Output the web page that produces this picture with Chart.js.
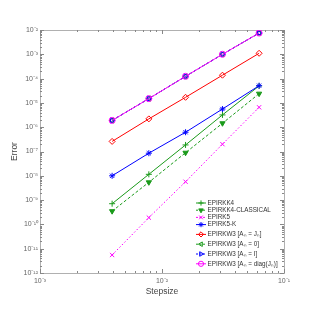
<!DOCTYPE html>
<html>
<head>
<meta charset="utf-8">
<script src="https://cdn.jsdelivr.net/npm/chart.js@4.4.0/dist/chart.umd.min.js"></script>
<style>
  html, body { margin: 0; padding: 0; background: #fff; }
  #wrap { width: 315px; height: 315px; }
</style>
</head>
<body>
<div id="wrap"><canvas id="myChart" width="315" height="315"></canvas></div>
<script>
// data
const stepsizes = [0.0039, 0.0078, 0.0156, 0.0313, 0.0625];

const epirkk4 = [7.1e-10, 1.15e-8, 1.86e-7, 3.2e-6, 5.0e-5];
const epirkk4Classical = [3.5e-10, 5.4e-9, 8.9e-8, 1.45e-6, 2.4e-5];
const epirk5 = [5.5e-12, 1.9e-10, 5.7e-9, 2.0e-7, 6.6e-6];
const epirk5K = [1.0e-8, 8.5e-8, 6.2e-7, 5.6e-6, 5.1e-5];
const epirkw3Jn = [2.6e-7, 2.2e-6, 1.7e-5, 1.38e-4, 1.1e-3];
const epirkw3Zero = [1.9e-6, 1.5e-5, 1.24e-4, 1.0e-3, 7.5e-3];
const epirkw3I = [1.9e-6, 1.5e-5, 1.24e-4, 1.0e-3, 7.5e-3];
const epirkw3Diag = [1.9e-6, 1.5e-5, 1.24e-4, 1.0e-3, 7.5e-3];

const seriesLabels = [
  "EPIRKK4",
  "EPIRKK4-CLASSICAL",
  "EPIRK5",
  "EPIRK5-K",
  "EPIRKW3 [A\u2099 = J\u2099]",
  "EPIRKW3 [A\u2099 = 0]",
  "EPIRKW3 [A\u2099 = I]",
  "EPIRKW3 [A\u2099 = diag(J\u2099)]",
];
const seriesValues = [epirkk4, epirkk4Classical, epirk5, epirk5K, epirkw3Jn, epirkw3Zero, epirkw3I, epirkw3Diag];

const xTickValues = [1e-3, 1e-2, 1e-1];
const yTickValues = [1e-12, 1e-11, 1e-10, 1e-9, 1e-8, 1e-7, 1e-6, 1e-5, 1e-4, 1e-3, 1e-2];

const green = "#1a9a1a";
const styles = [
  { color: green, dash: [], point: "cross", rot: 0, fill: false },
  { color: green, dash: [3, 2], point: "triangle", rot: 180, fill: true },
  { color: "#ff00ff", dash: [1.5, 2], point: "crossRot", rot: 0, fill: false },
  { color: "#0000ff", dash: [], point: "star", rot: 0, fill: false },
  { color: "#ff0000", dash: [], point: "rectRot", rot: 0, fill: false },
  { color: green, dash: [3, 2], point: "triangle", rot: -90, fill: false },
  { color: "#0000ff", dash: [3, 2], point: "triangle", rot: 90, fill: false },
  { color: "#ff00ff", dash: [], point: "circle", rot: 0, fill: false },
];

const sup = { "-": "\u207b", "0": "\u2070", "1": "\u00b9", "2": "\u00b2", "3": "\u00b3",
  "4": "\u2074", "5": "\u2075", "6": "\u2076", "7": "\u2077", "8": "\u2078", "9": "\u2079" };
function powLabel(v) {
  const e = Math.round(Math.log10(v));
  return "10" + String(e).split("").map((c) => sup[c]).join("");
}

Chart.defaults.font.family = '"Liberation Sans", Arial, sans-serif';

const datasets = seriesValues.map((vals, i) => ({
  label: seriesLabels[i],
  data: stepsizes.map((s, j) => ({ x: s, y: vals[j] })),
  borderColor: styles[i].color,
  backgroundColor: styles[i].fill ? styles[i].color : "rgba(0,0,0,0)",
  borderWidth: 1,
  borderDash: styles[i].dash,
  pointStyle: styles[i].point,
  pointRotation: styles[i].rot,
  pointRadius: 3,
  pointBorderWidth: 1,
  fill: false,
  tension: 0,
  order: seriesValues.length - i,
}));

// frame + inward ticks like the original figure
const framePlugin = {
  id: "frame",
  beforeDatasetsDraw(chart) {
    const { ctx, chartArea: a, scales } = chart;
    ctx.save();
    ctx.strokeStyle = "#b0b0b0";
    ctx.lineWidth = 1;
    ctx.strokeRect(a.left + 0.5, a.top + 0.5, a.right - a.left, a.bottom - a.top);
    ctx.strokeStyle = "#888";
    ctx.beginPath();
    const xs = scales.x, ys = scales.y;
    for (let e = -3; e < -1; e++) {
      for (let k = 1; k <= 10; k++) {
        const px = Math.round(xs.getPixelForValue(k * Math.pow(10, e))) + 0.5;
        const len = (k === 1 || k === 10) ? 4 : 2;
        ctx.moveTo(px, a.bottom); ctx.lineTo(px, a.bottom - len);
        ctx.moveTo(px, a.top); ctx.lineTo(px, a.top + len);
      }
    }
    for (let e = -12; e < -2; e++) {
      for (let k = 1; k <= 10; k++) {
        const py = Math.round(ys.getPixelForValue(k * Math.pow(10, e))) + 0.5;
        const len = (k === 1 || k === 10) ? 4 : 2;
        ctx.moveTo(a.left, py); ctx.lineTo(a.left + len, py);
        ctx.moveTo(a.right, py); ctx.lineTo(a.right - len, py);
      }
    }
    ctx.stroke();
    ctx.restore();
  },
};

// legend drawn inside the axes, lower right
const legendPlugin = {
  id: "insideLegend",
  afterDatasetsDraw(chart) {
    const ctx = chart.ctx;
    const x0 = 196;
    let y = 203;
    ctx.save();
    ctx.font = '6.3px "Liberation Sans", Arial, sans-serif';
    ctx.textBaseline = "middle";
    chart.data.datasets.forEach((ds, i) => {
      if (i > 0) y += ds.label.indexOf("\u2099") >= 0 ? 9.8 : 7.2;
      ctx.strokeStyle = ds.borderColor;
      ctx.fillStyle = ds.backgroundColor;
      ctx.lineWidth = 1;
      ctx.setLineDash(ds.borderDash.length ? [2, 1.5] : []);
      ctx.beginPath();
      ctx.moveTo(x0, y);
      ctx.lineTo(x0 + 10, y);
      ctx.stroke();
      ctx.setLineDash([]);
      Chart.helpers.drawPoint(ctx, {
        pointStyle: ds.pointStyle,
        rotation: ds.pointRotation,
        radius: 2.6,
        borderWidth: 1,
      }, x0 + 5, y);
      ctx.fillStyle = "#333";
      ctx.fillText(ds.label, x0 + 11.5, y);
    });
    ctx.restore();
  },
};

const ctx = document.getElementById("myChart").getContext("2d");
new Chart(ctx, {
  type: "line",
  data: { datasets: datasets },
  plugins: [framePlugin, legendPlugin],
  options: {
    responsive: false,
    animation: false,
    layout: { padding: { top: 30, right: 31, left: 0, bottom: 0 } },
    plugins: { legend: { display: false }, tooltip: { enabled: false } },
    scales: {
      x: {
        type: "logarithmic",
        min: 1e-3,
        max: 1e-1,
        afterBuildTicks: (scale) => {
          scale.ticks = xTickValues.map((v) => ({ value: v }));
        },
        afterFit: (scale) => { scale.height = 42; },
        grid: { display: false, drawTicks: false },
        border: { display: false },
        ticks: {
          autoSkip: false,
          maxRotation: 0,
          padding: 4,
          color: "#666",
          font: { size: 7 },
          callback: (v) => powLabel(v),
        },
        title: {
          display: true,
          text: "Stepsize",
          color: "#444",
          font: { size: 8.5 },
          padding: { top: 1, bottom: 18 },
        },
      },
      y: {
        type: "logarithmic",
        min: 1e-12,
        max: 1e-2,
        afterBuildTicks: (scale) => {
          scale.ticks = yTickValues.map((v) => ({ value: v }));
        },
        afterFit: (scale) => { scale.width = 40; },
        grid: { display: false, drawTicks: false },
        border: { display: false },
        ticks: {
          autoSkip: false,
          padding: 2,
          color: "#666",
          font: { size: 7 },
          callback: (v) => powLabel(v),
        },
        title: {
          display: true,
          text: "Error",
          color: "#444",
          font: { size: 8.5 },
          padding: { top: 10, bottom: 0 },
        },
      },
    },
  },
});
</script>
</body>
</html>
